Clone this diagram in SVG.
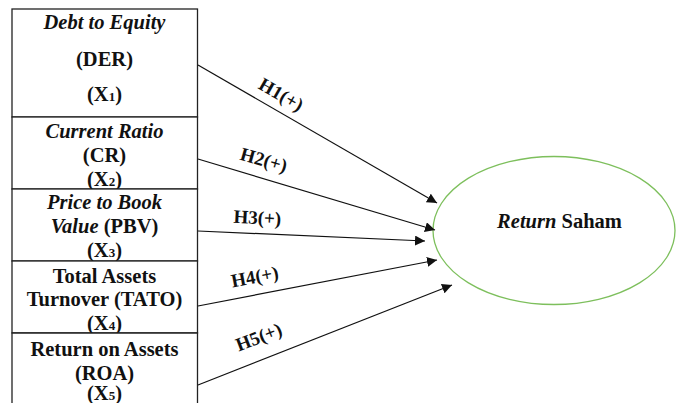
<svg xmlns="http://www.w3.org/2000/svg" width="676" height="403" viewBox="0 0 676 403">
<defs>
<style>
.box{fill:#fff;stroke:#222;stroke-width:1.3}
.t{font-family:'Liberation Serif','Tinos','DejaVu Serif',serif;font-weight:700;font-size:20.5px;fill:#111;text-anchor:middle}
.i{font-style:italic}
.sub{font-size:13px}
.lbl{font-family:'Liberation Serif','Tinos','DejaVu Serif',serif;font-weight:700;font-size:19px;fill:#111;text-anchor:middle}
.c{stroke:#111;stroke-width:1.2;fill:none;marker-end:url(#ah)}
</style>
<marker id="ah" viewBox="0 0 10 10" refX="10" refY="5" markerWidth="10" markerHeight="10" markerUnits="userSpaceOnUse" orient="auto">
<path d="M0,0 L10,5 L0,10 z" fill="#111"/>
</marker>
</defs>
<rect width="676" height="403" fill="#fff"/>
<g id="x1">
<rect class="box" x="12" y="9" width="185.5" height="108"/>
<text class="t" x="104.5" y="29"><tspan class="i">Debt to Equity</tspan></text>
<text class="t" x="104.5" y="66">(DER)</text>
<text class="t" x="104.5" y="101">(X<tspan class="sub">1</tspan>)</text>
</g>
<g id="x2">
<rect class="box" x="12" y="117" width="185.5" height="72"/>
<text class="t" x="104.5" y="138"><tspan class="i">Current Ratio</tspan></text>
<text class="t" x="104.5" y="162">(CR)</text>
<text class="t" x="104.5" y="186">(X<tspan class="sub">2</tspan>)</text>
</g>
<g id="x3">
<rect class="box" x="12" y="189" width="185.5" height="72"/>
<text class="t" x="104.5" y="209"><tspan class="i">Price to Book</tspan></text>
<text class="t" x="104.5" y="233"><tspan class="i">Value</tspan> (PBV)</text>
<text class="t" x="104.5" y="257">(X<tspan class="sub">3</tspan>)</text>
</g>
<g id="x4">
<rect class="box" x="12" y="261" width="185.5" height="72"/>
<text class="t" x="104.5" y="283">Total Assets</text>
<text class="t" x="104.5" y="306">Turnover (TATO)</text>
<text class="t" x="104.5" y="330">(X<tspan class="sub">4</tspan>)</text>
</g>
<g id="x5">
<path class="box" d="M12,410 V333 H197.5 V410"/>
<text class="t" x="104.5" y="356">Return on Assets</text>
<text class="t" x="104.5" y="380">(ROA)</text>
<text class="t" x="104.5" y="400">(X<tspan class="sub">5</tspan>)</text>
</g>
<g id="y">
<ellipse cx="554" cy="230.5" rx="121" ry="74" fill="none" stroke="#7dbf5c" stroke-width="1.3"/>
<text class="t" x="559.5" y="228"><tspan class="i">Return</tspan> Saham</text>
</g>
<g id="connectors">
<line class="c" x1="198" y1="65" x2="437" y2="203"/>
<line class="c" x1="198" y1="159" x2="435" y2="230"/>
<line class="c" x1="198" y1="231" x2="425" y2="241"/>
<line class="c" x1="198" y1="306" x2="437" y2="260"/>
<line class="c" x1="198" y1="385" x2="452" y2="285"/>
<text class="lbl" transform="translate(278,100) rotate(30)">H1(+)</text>
<text class="lbl" transform="translate(262,166) rotate(16)">H2(+)</text>
<text class="lbl" transform="translate(257,224) rotate(3)">H3(+)</text>
<text class="lbl" transform="translate(256,283) rotate(-11)">H4(+)</text>
<text class="lbl" transform="translate(261,343) rotate(-21)">H5(+)</text>
</g>
</svg>
